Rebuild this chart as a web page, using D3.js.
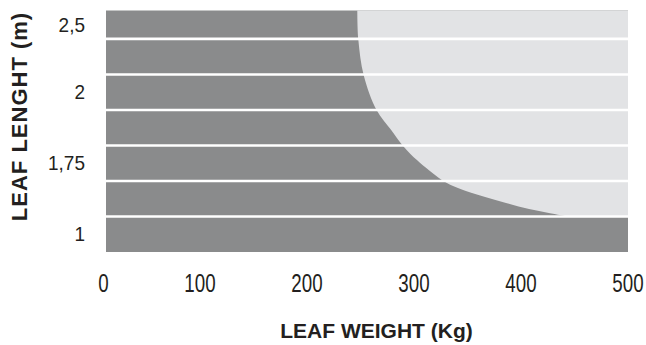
<!DOCTYPE html>
<html>
<head>
<meta charset="utf-8">
<script src="https://cdn.jsdelivr.net/npm/d3@7"></script>
<style>
  html, body { margin: 0; padding: 0; background: #fff; }
  svg { display: block; }
  .tick-num { font-family: "Liberation Sans", Arial, sans-serif; fill: #231f20; }
  .axis-title { font-family: "Liberation Sans", Arial, sans-serif; font-weight: bold; fill: #231f20; }
</style>
</head>
<body>
<div id="chart"></div>
<script>
// ---- Data ----
// y rows, top to bottom (only every other row carries a label)
const rowLabels = ["2,5", "", "2", "", "1,75", "", "1"];
// x ticks (kg)
const weightTicks = [0, 100, 200, 300, 400, 500];
// boundary between the dark (allowed) and light area
const curveWeight = [247, 248, 253, 265, 278.5, 290, 303, 314, 326, 336.5, 348.5, 366.5, 386, 407.5, 426, 444];
const curveRow    = [0.2, 1.03, 2.02, 3.0, 3.56, 4.02, 4.42, 4.70, 4.97, 5.14, 5.28, 5.45, 5.62, 5.79, 5.90, 6.0];

const LeafChart = (() => {

  const W = 646, H = 345;
  const DARK = "#8a8b8c", LIGHT = "#e2e3e5";

  function render() {
    const svg = d3.select("#chart").append("svg")
      .attr("width", W)
      .attr("height", H);

    // ---- Scales ----
    // the "0" sits a bit apart from the evenly spaced 100..500 ticks
    const x = d3.scaleLinear()
      .domain([0, 100, 500])
      .range([106, 200, 628]);

    // row units: top row is cut short, rows run 0.2 .. 7
    const y = d3.scaleLinear()
      .domain([0.2, rowLabels.length])
      .range([10.5, 252]);

    // ---- Background (dark) ----
    svg.append("rect")
      .attr("x", x(0))
      .attr("y", y(0.2))
      .attr("width", x(500) - x(0))
      .attr("height", y(rowLabels.length) - y(0.2))
      .attr("fill", DARK);

    // ---- Light area right of the curve ----
    const pts = curveWeight.map((w, i) => ({ w, r: curveRow[i] }));
    const area = d3.area()
      .y(d => y(d.r))
      .x0(d => x(d.w))
      .x1(x(500))
      .curve(d3.curveCatmullRom.alpha(0.5));

    svg.append("path")
      .datum(pts)
      .attr("d", area)
      .attr("fill", LIGHT);

    // ---- White row separators ----
    svg.selectAll(".sep")
      .data(d3.range(1, rowLabels.length))
      .join("line")
      .attr("class", "sep")
      .attr("x1", x(0))
      .attr("x2", x(500))
      .attr("y1", d => y(d))
      .attr("y2", d => y(d))
      .attr("stroke", "#fff")
      .attr("stroke-width", 2.6);

    // ---- Y labels (row centres) ----
    svg.selectAll(".ylab")
      .data(rowLabels.map((t, i) => ({ t, i })).filter(d => d.t))
      .join("text")
      .attr("class", "tick-num ylab")
      .attr("transform", d => `translate(85,${y((Math.max(d.i, 0.2) + d.i + 1) / 2)}) scale(0.95,1)`)
      .attr("dy", "0.35em")
      .attr("text-anchor", "end")
      .attr("font-size", 20)
      .text(d => d.t);

    // ---- X labels, condensed ----
    svg.selectAll(".xlab")
      .data(weightTicks)
      .join("text")
      .attr("class", "tick-num xlab")
      .attr("transform", d => `translate(${d === 0 ? x(d) - 2.5 : x(d)},291.5) scale(0.75,1)`)
      .attr("text-anchor", "middle")
      .attr("font-size", 25)
      .text(d => d);

    // ---- Axis titles ----
    svg.append("text")
      .attr("class", "axis-title")
      .attr("x", 376.5)
      .attr("y", 338)
      .attr("text-anchor", "middle")
      .attr("font-size", 21)
      .text("LEAF WEIGHT (Kg)");

    svg.append("text")
      .attr("class", "axis-title")
      .attr("transform", "translate(26.5,116.5) rotate(-90)")
      .attr("text-anchor", "middle")
      .attr("font-size", 22)
      .attr("letter-spacing", 1)
      .text("LEAF LENGHT (m)");
  }

  return { render };
})();

LeafChart.render();
</script>
</body>
</html>
